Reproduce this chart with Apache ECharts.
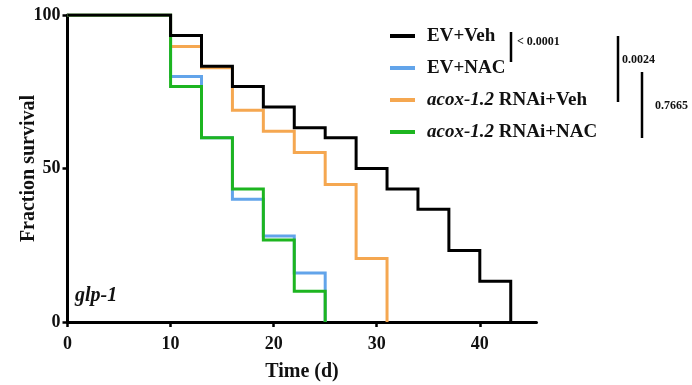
<!DOCTYPE html>
<html>
<head>
<meta charset="utf-8">
<script src="https://cdn.jsdelivr.net/npm/echarts@6/dist/echarts.min.js"></script>
<style>
  html, body { margin: 0; padding: 0; background: #fff; }
  #chart { width: 692px; height: 385px; }
</style>
</head>
<body>
<div id="chart"></div>
<script>
// Kaplan-Meier steps: survival (%) holds from each time until the next one
const evVehTimes = [0, 10, 13, 16, 19, 22, 25, 28, 31, 34, 37, 40, 43]
const evVehSurv = [100, 93.3, 83.3, 76.7, 70, 63.3, 60, 50, 43.3, 36.7, 23.3, 13.3, 0]

const evNacTimes = [0, 10, 13, 16, 19, 22, 25]
const evNacSurv = [100, 80, 60, 40, 28, 16, 0]

const acoxVehTimes = [0, 10, 13, 16, 19, 22, 25, 28, 31]
const acoxVehSurv = [100, 89.7, 82.8, 69, 62.1, 55.2, 44.8, 20.7, 0]

const acoxNacTimes = [0, 10, 13, 16, 19, 22, 25]
const acoxNacSurv = [100, 76.7, 60, 43.3, 26.7, 10, 0]

const seriesNames = ['EV+Veh', 'EV+NAC', 'acox-1.2 RNAi+Veh', 'acox-1.2 RNAi+NAC']
const seriesColors = ['#000000', '#62a4ea', '#f5a750', '#1db520']
// black is drawn over the others in the original
const seriesZ = [9, 3, 4, 5]
const xTicks = [0, 10, 20, 30, 40]
const yTicks = [0, 50, 100]

const font = "'Liberation Serif', 'DejaVu Serif', serif"

function pairs(ts, vs) {
  return ts.map((t, i) => [t, vs[i]])
}

const allData = [
  pairs(evVehTimes, evVehSurv),
  pairs(evNacTimes, evNacSurv),
  pairs(acoxVehTimes, acoxVehSurv),
  pairs(acoxNacTimes, acoxNacSurv),
]

const chart = echarts.init(document.getElementById('chart'), null, { renderer: 'canvas' })

const axisCommon = {
  axisLine: { show: true, lineStyle: { color: '#000', width: 3 } },
  axisTick: { show: true, length: 5, lineStyle: { color: '#000', width: 2.5 } },
  splitLine: { show: false },
  axisLabel: { color: '#111', fontFamily: font, fontWeight: 'bold', fontSize: 18 },
  nameTextStyle: { color: '#111', fontFamily: font, fontWeight: 'bold', fontSize: 20 },
  nameMoveOverlap: false,
}

// little bracket lines + p-values next to the legend
function bracket(x, y1, y2) {
  return { type: 'line', shape: { x1: x, y1, x2: x, y2 }, style: { stroke: '#000', lineWidth: 2.5 } }
}
function pText(x, y, t) {
  return {
    type: 'text', x, y,
    style: { text: t, fill: '#111', font: `bold 12px ${font}`, verticalAlign: 'middle' },
  }
}

chart.setOption({
  animation: false,
  textStyle: { fontFamily: font },
  grid: {
    left: 67.5, right: 155.5, top: 15, bottom: 63,
    containLabel: false, outerBoundsMode: 'none',
  },
  legend: {
    orient: 'vertical',
    left: 385,
    top: 21,
    itemWidth: 25,
    itemHeight: 4,
    itemGap: 12,
    icon: 'rect',
    data: seriesNames,
    formatter: (name) => {
      if (name.startsWith('acox-1.2')) return '{i|acox-1.2}' + name.slice(8)
      return name
    },
    textStyle: {
      color: '#111', fontFamily: font, fontWeight: 'bold', fontSize: 19, lineHeight: 20,
      padding: [0, 0, 0, 7],
      rich: { i: { fontStyle: 'italic', fontWeight: 'bold', fontFamily: font, fontSize: 19, lineHeight: 20, color: '#111' } },
    },
  },
  xAxis: {
    ...axisCommon,
    type: 'value',
    min: 0,
    max: 45.5,
    name: 'Time (d)',
    nameLocation: 'middle',
    nameGap: 40,
    axisTick: { ...axisCommon.axisTick, customValues: xTicks },
    axisLabel: { ...axisCommon.axisLabel, customValues: xTicks, margin: 13 },
  },
  yAxis: {
    ...axisCommon,
    type: 'value',
    min: 0,
    max: 100,
    name: 'Fraction survival',
    nameLocation: 'middle',
    nameGap: 29,
    axisTick: { ...axisCommon.axisTick, customValues: yTicks },
    axisLabel: { ...axisCommon.axisLabel, customValues: yTicks, margin: 7 },
  },
  series: allData.map((d, i) => ({
    name: seriesNames[i],
    type: 'line',
    step: 'end',
    symbol: 'none',
    data: d,
    lineStyle: { width: 3, color: seriesColors[i], join: 'miter' },
    itemStyle: { color: seriesColors[i] },
    z: seriesZ[i],
  })),
  graphic: [
    {
      type: 'text', left: 75, top: 286,
      style: { text: 'glp-1', fill: '#111', font: `italic bold 20px ${font}` },
    },
    bracket(511, 32, 62),
    pText(517, 42, '< 0.0001'),
    bracket(618, 36, 102),
    pText(622, 60, '0.0024'),
    bracket(642, 72, 138),
    pText(655, 106, '0.7665'),
  ],
})
</script>
</body>
</html>
